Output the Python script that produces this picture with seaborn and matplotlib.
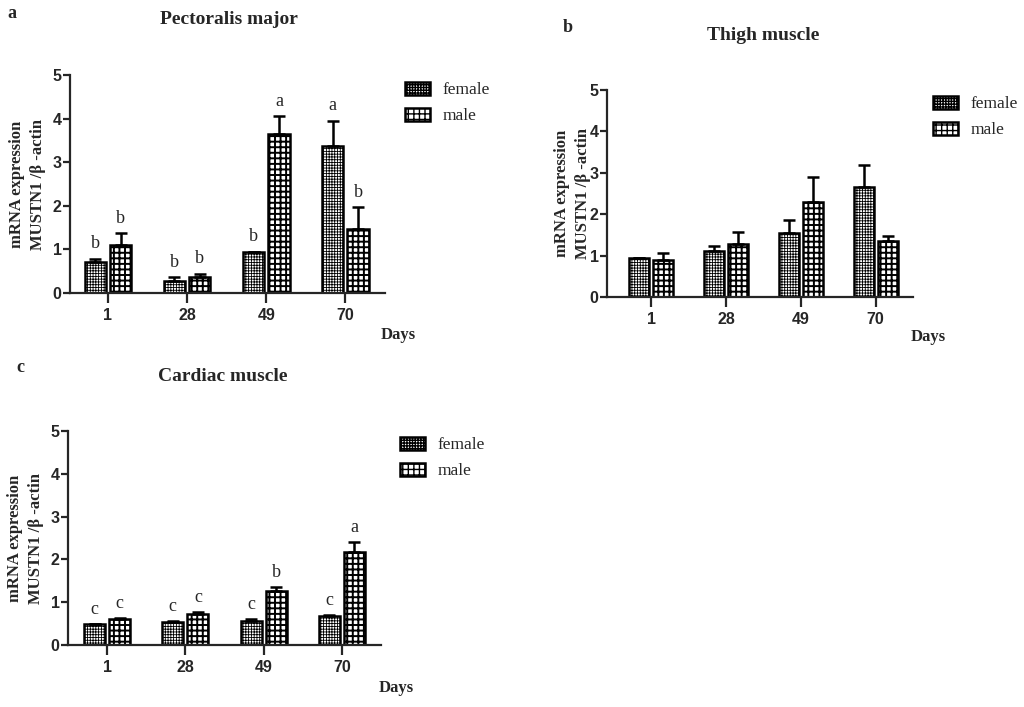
import numpy as np
import pandas as pd
import matplotlib
matplotlib.use("Agg")
import matplotlib.pyplot as plt
import seaborn as sns

# ---------------- data ----------------
days = ["1", "28", "49", "70"]
sexes = ["female", "male"]

a_female = [0.71, 0.27, 0.93, 3.37]
a_female_err = [0.08, 0.09, 0.02, 0.58]
a_male = [1.09, 0.37, 3.65, 1.47]
a_male_err = [0.28, 0.07, 0.41, 0.50]
a_female_letters = ["b", "b", "b", "a"]
a_male_letters = ["b", "b", "a", "b"]

b_female = [0.94, 1.11, 1.55, 2.65]
b_female_err = [0.01, 0.12, 0.32, 0.54]
b_male = [0.90, 1.27, 2.29, 1.35]
b_male_err = [0.16, 0.31, 0.61, 0.12]

c_female = [0.48, 0.54, 0.57, 0.67]
c_female_err = [0.01, 0.02, 0.03, 0.03]
c_male = [0.60, 0.73, 1.27, 2.17]
c_male_err = [0.02, 0.03, 0.08, 0.23]
c_female_letters = ["c", "c", "c", "c"]
c_male_letters = ["c", "c", "b", "a"]

titles = ["Pectoralis major", "Thigh muscle", "Cardiac muscle"]
panel_tags = ["a", "b", "c"]
ylabel = "mRNA expression\nMUSTN1 /\u03b2 -actin"
xlabel = "Days"
yticks = [0, 1, 2, 3, 4, 5]

# ---------------- style ----------------
sns.set_theme(style="ticks")
plt.rcParams["font.family"] = ["Liberation Serif", "DejaVu Serif"]
plt.rcParams["hatch.color"] = "black"
plt.rcParams["axes.linewidth"] = 1.6

SANS = ["Liberation Sans", "DejaVu Sans"]
SERIF = ["Liberation Serif", "DejaVu Serif"]

W, H = 1024, 707
fig = plt.figure(figsize=(W / 100, H / 100), dpi=100)


def fbox(l, r, t, b):
    return [l / W, 1 - b / H, (r - l) / W, (b - t) / H]


def panel(box, female, female_err, male, male_err, f_letters, m_letters,
          xlim, legend_xy, days_xy, ylab_right):
    ax = fig.add_axes(fbox(*box))
    df = pd.DataFrame({
        "day": days * 2,
        "sex": [sexes[0]] * 4 + [sexes[1]] * 4,
        "value": list(female) + list(male),
    })
    sns.barplot(data=df, x="day", y="value", hue="sex", order=days,
                hue_order=sexes, ax=ax, width=0.64, gap=0.16,
                errorbar=None, legend=False, palette=["white", "white"],
                edgecolor="black", linewidth=1.8, saturation=1)
    hatches = ["++++++", "+++"]
    hlw = [0.6, 1.4]
    errs = [female_err, male_err]
    letters = [f_letters, m_letters]
    bar_conts = list(ax.containers)[:2]
    for k, cont in enumerate(bar_conts):
        xs, ys = [], []
        for p in cont.patches:
            p.set_hatch(hatches[k])
            if hasattr(p, "set_hatch_linewidth"):
                p.set_hatch_linewidth(hlw[k])
            xs.append(p.get_x() + p.get_width() / 2)
            ys.append(p.get_height())
        xs = np.array(xs)
        ys = np.array(ys)
        e = np.array(errs[k])
        ax.errorbar(xs, ys, yerr=[np.zeros_like(e), e], fmt="none",
                    ecolor="black", elinewidth=1.8, capsize=4.5,
                    capthick=1.8, zorder=1)
        if letters[k] is not None:
            for x, y, ee, t in zip(xs, ys, e, letters[k]):
                ax.text(x, y + ee + 0.24, t, ha="center", va="baseline",
                        fontsize=13, family=SERIF)
    ax.set_xlim(*xlim)
    ax.set_ylim(0, 5)
    ax.set_yticks(yticks)
    ax.set_yticklabels([str(v) for v in yticks], family=SANS,
                       fontweight="bold", fontsize=11.5)
    ax.set_xticks(range(len(days)))
    ax.set_xticklabels(days, family=SANS, fontweight="bold", fontsize=11.5)
    ax.tick_params(axis="y", length=5, width=1.6, pad=1)
    ax.tick_params(axis="x", length=7, width=1.6, pad=4)
    ax.set_xlabel("")
    ax.set_ylabel(ylabel, family=SERIF, fontweight="bold", fontsize=12,
                  linespacing=1.4)
    l, r, t, b = box
    ax.yaxis.set_label_coords((ylab_right - l) / (r - l), 0.5)
    sns.despine(ax=ax)
    handles = [bar_conts[0].patches[0], bar_conts[1].patches[0]]
    ax.legend(handles, sexes, loc="upper left",
              bbox_to_anchor=(legend_xy[0] / W, 1 - legend_xy[1] / H),
              bbox_transform=fig.transFigure, frameon=False,
              prop={"family": SERIF, "size": 12.5},
              handlelength=1.45, handleheight=0.75, handletextpad=0.7,
              labelspacing=0.55, borderpad=0, borderaxespad=0)
    fig.text(days_xy[0] / W, 1 - days_xy[1] / H, xlabel, ha="center",
             va="center", family=SERIF, fontweight="bold", fontsize=12)
    return ax


panel((70, 385, 75, 293), a_female, a_female_err, a_male, a_male_err,
      a_female_letters, a_male_letters, (-0.48, 3.5), (405, 82), (398, 335),
      46)
panel((607, 913, 90, 297), b_female, b_female_err, b_male, b_male_err,
      None, None, (-0.59, 3.5), (933, 96), (928, 337), 591)
panel((68, 381, 431, 645), c_female, c_female_err, c_male, c_male_err,
      c_female_letters, c_male_letters, (-0.5, 3.5), (400, 437), (396, 688),
      44)

# titles and panel tags
for (x, y), t in zip([(229, 19), (763, 36), (223, 376)], titles):
    fig.text(x / W, 1 - y / H, t, ha="center", va="center", family=SERIF,
             fontweight="bold", fontsize=14)
for (x, y), t in zip([(12, 14), (568, 28), (20, 368)], panel_tags):
    fig.text(x / W, 1 - y / H, t, ha="center", va="center", family=SERIF,
             fontweight="bold", fontsize=13)

fig.savefig("out.png", dpi=100)
